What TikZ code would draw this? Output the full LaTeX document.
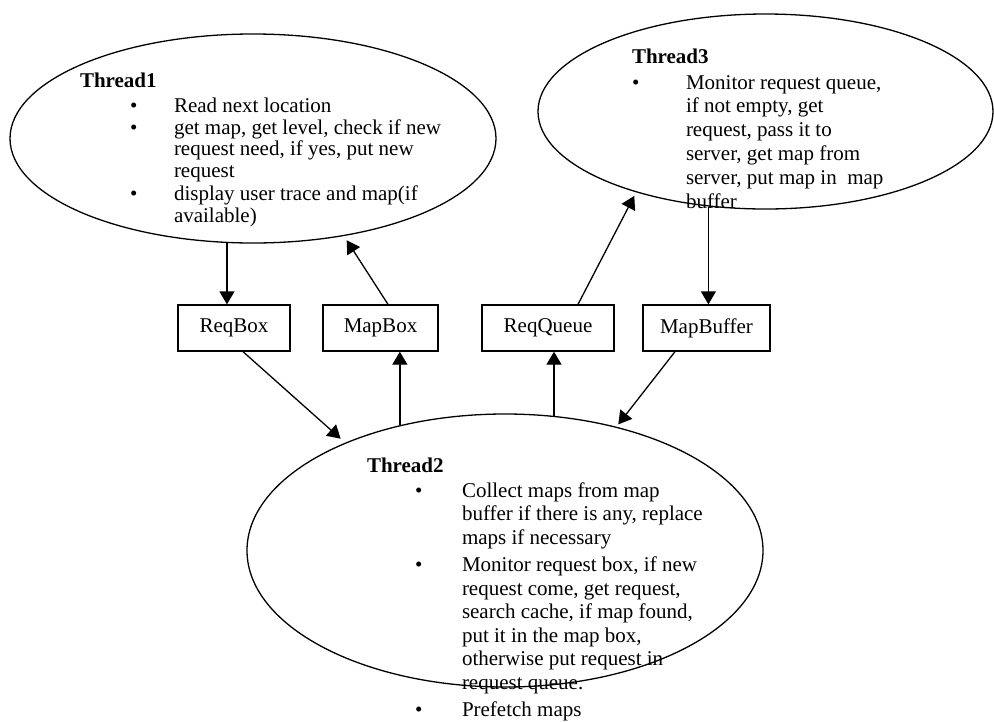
\documentclass[tikz,border=0pt]{standalone}
\usepackage{fontspec}
\setmainfont{Liberation Serif}
\usetikzlibrary{arrows.meta,shapes.geometric}
\begin{document}
\begin{tikzpicture}[x=1pt,y=-1pt,
  ell/.style={draw, ellipse, line width=1.3pt, inner sep=0pt},
  box/.style={draw, rectangle, line width=1.3pt, inner sep=0pt, minimum height=46pt, font=\fontsize{21}{22}\selectfont},
  arr/.style={line width=1.3pt, -{Triangle[length=13pt,width=15pt]}},
  txt/.style={anchor=base west, inner sep=0pt, outer sep=0pt},
  ttl/.style={txt, font=\fontsize{21}{22}\selectfont\bfseries},
  bul/.style={txt, font=\fontsize{21}{22}\selectfont}
]
\useasboundingbox (0,0) rectangle (994,721);

% ellipses
\node[ell, minimum width=486pt, minimum height=209pt] (T1) at (253,138.5) {};
\node[ell, minimum width=455pt, minimum height=195pt] (T3) at (765.5,111.5) {};
\node[ell, minimum width=516pt, minimum height=273pt] (T2) at (505,550.5) {};

% boxes
\node[box, minimum width=112pt] (RB) at (234,328) {ReqBox};
\node[box, minimum width=115pt] (MB) at (380.5,328) {MapBox};
\node[box, minimum width=132pt] (RQ) at (548,328) {ReqQueue};
\node[box, minimum width=127pt] (MF) at (706.5,328) {MapBuffer};

% Thread1 text
\node[ttl] (t1title) at (80,87) {Thread1};
\node[bul] (t1b1) at (130,112) {•};
\node[bul] (t1b2) at (130,134) {•};
\node[bul] (t1b3) at (130,200.5) {•};
\node[txt] (t1i1) at (174,112) {\fontsize{21}{21.5}\selectfont\begin{tabular}[t]{@{}l@{}}Read next location\end{tabular}};
\node[txt] (t1i2) at (174,134) {\fontsize{21}{21.5}\selectfont\begin{tabular}[t]{@{}l@{}}get map, get level, check if new\\request need, if yes, put new\\request\end{tabular}};
\node[txt] (t1i3) at (174,200.5) {\fontsize{21}{22}\selectfont\begin{tabular}[t]{@{}l@{}}display user trace and map(if\\available)\end{tabular}};

% Thread3 text
\node[ttl] (t3title) at (632,63) {Thread3};
\node[bul] (t3b1) at (632,89) {•};
\node[txt] (t3i1) at (686,89) {\fontsize{21}{23.8}\selectfont\begin{tabular}[t]{@{}l@{}}Monitor request queue,\\if not empty, get\\request, pass it to\\server, get map from\\server, put map in\ \ map\\buffer\end{tabular}};

% Thread2 text
\node[ttl] (t2title) at (367,472) {Thread2};
\node[bul] (t2b1) at (415,497) {•};
\node[bul] (t2b2) at (415,571.7) {•};
\node[bul] (t2b3) at (415,716.5) {•};
\node[txt] (t2i1) at (462,497) {\fontsize{21}{23.5}\selectfont\begin{tabular}[t]{@{}l@{}}Collect maps from map\\buffer if there is any, replace\\maps if necessary\end{tabular}};
\node[txt] (t2i2) at (462,571.7) {\fontsize{21}{23.5}\selectfont\begin{tabular}[t]{@{}l@{}}Monitor request box, if new\\request come, get request,\\search cache, if map found,\\put it in the map box,\\otherwise put request in\\request queue.\end{tabular}};
\node[txt] (t2i3) at (462,716.5) {\fontsize{21}{23.5}\selectfont\begin{tabular}[t]{@{}l@{}}Prefetch maps\end{tabular}};

% connectors
\draw[arr] (T1.-104) -- (T1.-104 |- RB.north);
\draw[arr, shorten >=5pt] ([xshift=7.5pt]MB.north) -- (T1.-47);
\draw[arr, shorten >=4pt] ([xshift=30pt]RQ.north) -- (T3.-148.3);
\draw[arr] (T3.-121.8) -- (T3.-121.8 |- MF.north);
\draw[arr, shorten >=6pt] ([xshift=9pt]RB.south) -- (T2.146.9);
\draw[arr] (T2.130.1) -- (T2.130.1 |- MB.south);
\draw[arr] (T2.70.3) -- (T2.70.3 |- RQ.south);
\draw[arr, shorten >=3pt] ([xshift=-31.5pt]MF.south) -- (T2.48.2);
\end{tikzpicture}
\end{document}
